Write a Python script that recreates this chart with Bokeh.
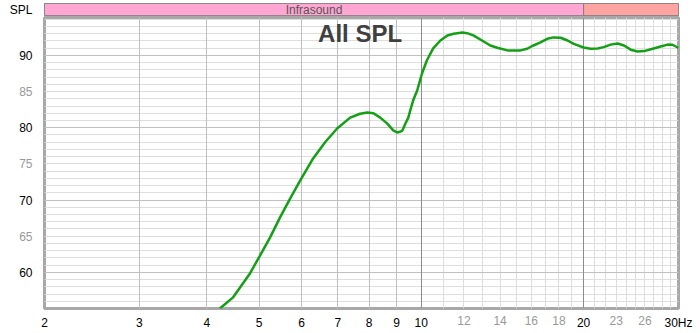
from bokeh.plotting import figure
from bokeh.models import Range1d, FixedTicker, Grid, Label
from bokeh.layouts import column
from bokeh.embed import file_html
from bokeh.resources import INLINE
from bokeh.core.properties import value

# ---- data ----
freq = [4.23, 4.47, 4.81, 5.02, 5.24, 5.47, 5.71, 5.96, 6.30, 6.63, 6.98, 7.38,
        7.70, 7.94, 8.15, 8.39, 8.64, 8.88, 9.02, 9.14, 9.22, 9.34, 9.46, 9.54,
        9.66, 9.83, 10.03, 10.24, 10.52, 10.85, 11.18, 11.48, 11.92, 12.16,
        12.49, 12.96, 13.43, 13.83, 14.45, 14.84, 15.27, 15.72, 16.14, 16.64,
        17.12, 17.59, 18.13, 18.68, 19.18, 20.0, 20.6, 21.24, 21.8, 22.44,
        23.14, 23.77, 24.46, 25.2, 25.9, 26.98, 27.8, 28.64, 29.24, 29.9, 30.0]
spl = [55.0, 56.5, 59.85, 62.3, 64.8, 67.6, 70.2, 72.7, 75.75, 78.0, 79.9, 81.4,
       81.94, 82.1, 82.0, 81.4, 80.6, 79.6, 79.35, 79.45, 79.6, 80.55, 81.4, 82.4,
       83.8, 85.2, 87.5, 89.3, 90.97, 92.07, 92.77, 93.0, 93.18, 93.08,
       92.77, 92.07, 91.38, 91.06, 90.7, 90.7, 90.7, 90.93, 91.38, 91.8,
       92.3, 92.5, 92.45, 92.07, 91.6, 91.1, 90.93, 90.97, 91.15, 91.5,
       91.66, 91.38, 90.8, 90.55, 90.6, 90.97, 91.24, 91.5, 91.48, 91.1, 91.0]

x_black_ticks = [2, 3, 4, 5, 6, 7, 8, 9, 10, 20, 30]
x_black_labels = ["2", "3", "4", "5", "6", "7", "8", "9", "10", "20", "30Hz"]
x_gray_ticks = [12, 14, 16, 18, 23, 26]
x_gray_labels = ["12", "14", "16", "18", "23", "26"]
y_black_ticks = [60, 70, 80, 90]
y_gray_ticks = [65, 75, 85]

band_names = ["Infrasound", ""]
band_left = [2, 20]
band_right = [20, 30]
band_colors = ["#ffa6d2", "#ffa3a3"]

x_min, x_max = 2, 30
y_min, y_max = 55, 95.25

FONT = "Liberation Sans"

# layout (pixels)
W, H_BAND, H_MAIN = 700, 16, 317
B_LEFT, B_RIGHT, B_TOP, B_BOTTOM = 44, 22, 1, 25

# ---- band figure ----
band = figure(width=W, height=H_BAND, x_axis_type="log", x_range=Range1d(x_min, x_max),
              y_range=Range1d(0, 1), output_backend="svg", toolbar_location=None,
              min_border_left=B_LEFT, min_border_right=B_RIGHT, min_border_top=3,
              min_border_bottom=1)
band.xaxis.visible = False
band.grid.visible = False
band.outline_line_color = "#808080"
band.outline_line_width = 1
band.quad(left=band_left, right=band_right, bottom=0, top=1, fill_color=band_colors,
          line_color="#808080", line_width=1)
band.text(x=[(band_left[0] * band_right[0]) ** 0.5], y=[0.5], text=[band_names[0]],
          text_font=value(FONT), text_font_size="12px", text_color="#555555",
          text_align="center", text_baseline="middle")
band.yaxis.ticker = FixedTicker(ticks=[0.5])
band.yaxis.major_label_overrides = {0.5: "SPL"}
band.yaxis.axis_line_color = None
band.yaxis.major_tick_line_color = None
band.yaxis.minor_tick_line_color = None
band.yaxis.major_label_standoff = 6
band.yaxis.major_label_text_font = FONT
band.yaxis.major_label_text_font_size = "12px"
band.yaxis.major_label_text_color = "#000000"


def make_main(x_ticks, x_labels, y_ticks, color):
    f = figure(width=W, height=H_MAIN, x_axis_type="log", x_range=Range1d(x_min, x_max),
               y_range=Range1d(y_min, y_max), output_backend="svg", toolbar_location=None,
               min_border_left=B_LEFT, min_border_right=B_RIGHT, min_border_top=B_TOP,
               min_border_bottom=B_BOTTOM)
    for ax in (f.xaxis[0], f.yaxis[0]):
        ax.axis_line_color = None
        ax.major_tick_line_color = None
        ax.minor_tick_line_color = None
        ax.major_label_text_font = FONT
        ax.major_label_text_font_size = "12px"
        ax.major_label_text_color = color
    f.xaxis.major_label_standoff = 1
    f.yaxis.major_label_standoff = 6
    f.xaxis.ticker = FixedTicker(ticks=x_ticks)
    f.xaxis.major_label_overrides = {t: l for t, l in zip(x_ticks, x_labels)}
    f.yaxis.ticker = FixedTicker(ticks=y_ticks)
    f.yaxis.major_label_overrides = {t: str(t) for t in y_ticks}
    f.xgrid.visible = False
    f.ygrid.visible = False
    return f


# ---- main figure (black tick labels) ----
p = make_main(x_black_ticks, x_black_labels, y_black_ticks, "#000000")
p.outline_line_color = "#a8a8a8"
p.outline_line_width = 3

light = "#dedede"
mid = "#c0c0c0"
dark = "#8c8c8c"
p.add_layout(Grid(dimension=0, ticker=FixedTicker(ticks=list(range(2, 31))), grid_line_color=light))
p.add_layout(Grid(dimension=1, ticker=FixedTicker(ticks=list(range(55, 96))), grid_line_color=light))
p.add_layout(Grid(dimension=0, ticker=FixedTicker(ticks=list(range(3, 10))), grid_line_color=mid))
p.add_layout(Grid(dimension=1, ticker=FixedTicker(ticks=y_black_ticks), grid_line_color=mid))
p.add_layout(Grid(dimension=0, ticker=FixedTicker(ticks=[10, 20]), grid_line_color=dark))

p.line(freq, spl, line_color="#14a014", line_width=2.5)

p.add_layout(Label(x=7.7, y=93.0, text="All SPL", text_font=FONT, text_font_size="24px",
                   text_font_style="bold", text_color="#404040", text_align="center",
                   text_baseline="middle"))

# ---- transparent twin laid over the main plot, carrying the gray tick labels ----
ov = make_main(x_gray_ticks, x_gray_labels, y_gray_ticks, "#999999")
ov.outline_line_color = None
ov.background_fill_color = None
ov.border_fill_color = None
ov.margin = (-H_MAIN, 0, 0, 0)
ov.line(freq, spl, line_alpha=0)

layout = column(band, p, ov)
open("out.html", "w").write(file_html(layout, INLINE))
